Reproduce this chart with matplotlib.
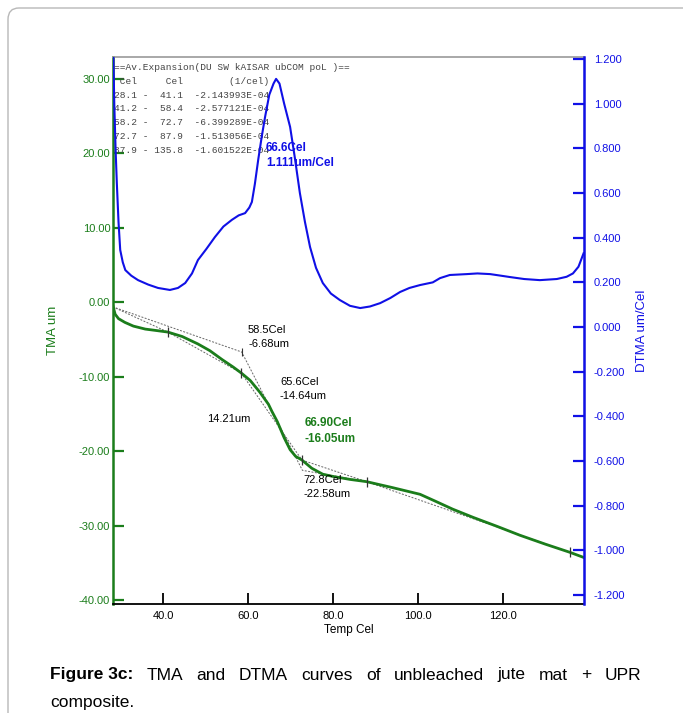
import numpy as np
import matplotlib.pyplot as plt
from matplotlib.patches import FancyBboxPatch

# TMA curve (um) vs temperature (Cel)
tma_t = [28.2, 28.7, 29.5, 31.0, 33.0, 35.8, 38.5, 41.1, 44.5, 48.2, 51.0, 53.9,
         56.5, 58.4, 60.5, 62.8, 64.8, 65.6, 66.9, 68.5, 69.9, 71.2, 72.7, 75.0,
         77.6, 80.0, 84.0, 87.9, 94.0, 100.5, 104.0, 108.2, 113.0, 118.6, 124.0,
         130.0, 135.8, 139.1]
tma_um = [-0.5, -1.6, -2.2, -2.7, -3.2, -3.6, -3.8, -4.0, -4.6, -5.6, -6.5, -7.7,
          -8.7, -9.5, -10.5, -12.1, -13.7, -14.64, -16.05, -18.2, -19.8, -20.7, -21.2, -22.3,
          -23.1, -23.4, -23.8, -24.1, -24.9, -25.8, -26.7, -27.8, -28.9, -30.1, -31.3,
          -32.5, -33.6, -34.3]

# DTMA curve (um/Cel)
dtma_t = [28.25, 28.5, 28.8, 29.1, 29.5, 29.9, 30.5, 31.1, 32.5, 34.1, 36.5, 38.8,
          41.6, 43.5, 45.2, 46.8, 48.2, 50.2, 52.2, 54.2, 56.2, 57.8, 59.3, 60.3,
          60.9, 61.6, 62.4, 63.2, 64.0, 65.0, 66.0, 66.6, 67.4, 68.5, 69.9, 71.0,
          72.2, 73.4, 74.6, 76.0, 77.6, 79.5, 81.6, 84.0, 86.4, 88.7, 91.1, 93.5,
          95.8, 98.0, 100.5, 103.5, 105.2, 107.5, 111.5, 114.0, 117.0, 119.5, 121.6,
          125.0, 128.7, 132.7, 135.0, 136.5, 137.8, 138.6, 139.0]
dtma_v = [1.25, 1.0, 0.8, 0.645, 0.47, 0.345, 0.29, 0.255, 0.23, 0.21, 0.19, 0.175,
          0.166, 0.175, 0.197, 0.24, 0.30, 0.35, 0.403, 0.45, 0.48, 0.50, 0.51, 0.535,
          0.56, 0.64, 0.75, 0.85, 0.94, 1.04, 1.09, 1.111, 1.09, 1.0, 0.896, 0.76,
          0.60, 0.47, 0.358, 0.265, 0.197, 0.15, 0.121, 0.095, 0.085, 0.092, 0.107, 0.13,
          0.157, 0.175, 0.188, 0.20, 0.219, 0.233, 0.237, 0.24, 0.237, 0.23, 0.224,
          0.215, 0.21, 0.215, 0.225, 0.24, 0.27, 0.31, 0.33]

# segment boundaries of the average expansion fits
seg_t = [28.1, 41.1, 58.4, 72.7, 87.9, 135.8]
seg_um = [-0.6, -4.0, -9.5, -21.2, -24.1, -33.6]

# onset construction (corners)
onset_t = [28.1, 58.5, 72.8, 87.9]
onset_um = [-0.6, -6.68, -22.58, -24.1]

table_lines = [
    "==Av.Expansion(DU SW kAISAR ubCOM poL )==",
    " Cel     Cel        (1/cel)",
    "28.1 -  41.1  -2.143993E-04",
    "41.2 -  58.4  -2.577121E-04",
    "58.2 -  72.7  -6.399289E-04",
    "72.7 -  87.9  -1.513056E-04",
    "87.9 - 135.8  -1.601522E-04",
]

GREEN = '#1b7d1b'
BLUE = '#1010e6'
W, H = 683, 713

plt.rcParams['font.family'] = ['Liberation Sans', 'DejaVu Sans']

fig = plt.figure(figsize=(W / 100, H / 100), dpi=100)
fig.patches.append(FancyBboxPatch((8 / W, -0.05), 1.1, (H - 8) / H + 0.05,
                                  boxstyle='round,pad=0,rounding_size=0.016',
                                  transform=fig.transFigure, fc='none',
                                  ec='#b8b8b8', lw=1.0))

ax = fig.add_axes([113 / W, 1 - 604 / H, (584 - 113) / W, (604 - 57) / H])
ax2 = ax.twinx()

# TMA side
dash = dict(color='#666', lw=0.7, ls=(0, (2, 1.5)))
for i in range(len(seg_t) - 1):
    ax.plot(seg_t[i:i + 2], seg_um[i:i + 2], **dash)
ax.plot(onset_t, onset_um, **dash)
ax.plot(tma_t, tma_um, color=GREEN, lw=2.0, zorder=3)
ax.plot(seg_t[1:], seg_um[1:], ls='none', marker='|', ms=7, mew=0.9, color='#333', zorder=4)
ax.plot(onset_t[1:2], onset_um[1:2], ls='none', marker='|', ms=6, mew=0.8, color='#333', zorder=4)

ax.set_xlim(28.2, 139.1)
ax.set_ylim(-40.54, 32.96)
lt = np.arange(-40, 31, 10)
ax.set_yticks(lt)
ax.set_yticklabels(['%.2f' % v for v in lt])
ax.set_xticks([40, 60, 80, 100, 120])
ax.set_xticklabels(['40.0', '60.0', '80.0', '100.0', '120.0'])

ax.tick_params(axis='y', colors=GREEN, direction='in', length=8, width=1.6,
               labelsize=8, pad=2)
ax.tick_params(axis='x', colors='black', direction='in', length=8, width=1.3,
               labelsize=8, pad=5)
ax.set_xlabel('Temp Cel', fontsize=8.5, labelpad=2)
ax.set_ylabel('TMA um', color=GREEN, fontsize=9.5, labelpad=14)

ax.spines['left'].set_color(GREEN)
ax.spines['left'].set_linewidth(1.8)
ax.spines['bottom'].set_linewidth(1.3)
ax.spines['top'].set_color('#999')
ax.spines['top'].set_linewidth(1.2)

# DTMA side
ax2.plot(dtma_t, dtma_v, color=BLUE, lw=1.5)
ax2.set_ylim(-1.240, 1.209)
rt = np.round(np.arange(-1.2, 1.21, 0.2), 1)
ax2.set_yticks(rt)
ax2.set_yticklabels(['%.3f' % (v if abs(v) > 1e-9 else 0.0) for v in rt])
ax2.tick_params(axis='y', colors=BLUE, direction='in', length=8, width=1.6,
                labelsize=8, pad=7)
ax2.set_ylabel('DTMA um/Cel', color=BLUE, fontsize=9.5, labelpad=8)
ax2.spines['right'].set_color(BLUE)
ax2.spines['right'].set_linewidth(1.8)
for s in ['left', 'top', 'bottom']:
    ax2.spines[s].set_visible(False)

# annotations
ax.text(60.0, -3.0, '58.5Cel\n-6.68um', fontsize=8, va='top', linespacing=1.5)
ax.text(67.5, -10.0, '65.6Cel\n-14.64um', fontsize=8, va='top', linespacing=1.5)
ax.text(50.4, -15.7, '14.21um', fontsize=8, va='center')
ax.text(73.4, -15.4, '66.90Cel\n-16.05um', fontsize=8.5, va='top', color=GREEN,
        fontweight='bold', linespacing=1.4)
ax.text(73.0, -23.2, '72.8Cel\n-22.58um', fontsize=8, va='top', linespacing=1.5)
ax2.text(64.2, 0.83, '66.6Cel\n1.111um/Cel', fontsize=8.5, va='top', color=BLUE,
         fontweight='bold', linespacing=1.4)

for i, line in enumerate(table_lines):
    ax.text(0.002, 0.989 - i * 0.0252, line, transform=ax.transAxes, fontsize=6.8,
            family='Liberation Mono', color='#444', va='top', zorder=5)

# caption, justified on the first line
renderer = fig.canvas.get_renderer()
cap_y1 = 1 - 675 / H
words = [('Figure 3c:', 'bold')] + [(w, 'normal') for w in
         ['TMA', 'and', 'DTMA', 'curves', 'of', 'unbleached', 'jute', 'mat', '+', 'UPR']]
objs = [fig.text(0, cap_y1, w, fontsize=12.5, fontweight=fw, va='center')
        for w, fw in words]
widths = [o.get_window_extent(renderer).width for o in objs]
gap = (641 - 50 - sum(widths)) / (len(objs) - 1)
x = 50.0
for o, wd in zip(objs, widths):
    o.set_x(x / W)
    x += wd + gap
fig.text(50 / W, 1 - 703 / H, 'composite.', fontsize=12.5, va='center')

fig.savefig('out.png', dpi=100)
